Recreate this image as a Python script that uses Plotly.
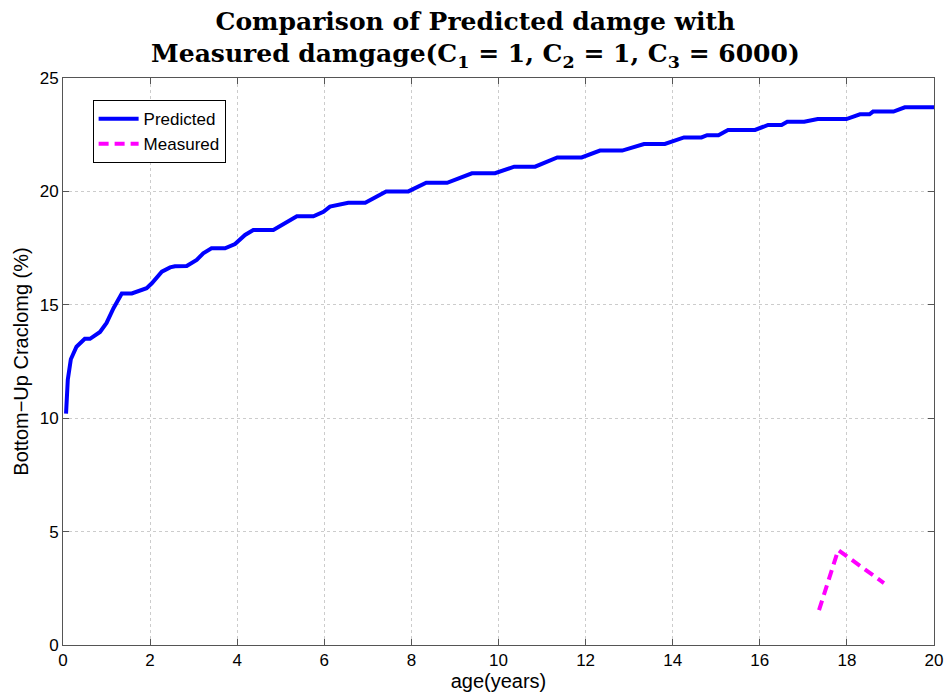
import plotly.graph_objects as go

# Predicted damage curve
pred_age = [0.07, 0.11, 0.18, 0.31, 0.5, 0.62, 0.85, 1.0, 1.16, 1.35, 1.58, 1.92, 2.04, 2.27, 2.46,
            2.57, 2.84, 3.07, 3.22, 3.41, 3.72, 3.95, 4.18, 4.37, 4.83, 5.14, 5.37, 5.75, 5.98,
            6.13, 6.36, 6.55, 6.94, 7.42, 7.93, 8.34, 8.82, 9.39, 9.92, 10.36, 10.84, 11.35, 11.91,
            12.33, 12.84, 13.34, 13.82, 14.26, 14.66, 14.79, 15.05, 15.27, 15.89, 16.19, 16.5,
            16.63, 17.02, 17.33, 17.99, 18.3, 18.52, 18.6, 19.07, 19.33, 20.0]
pred_val = [10.2, 11.7, 12.6, 13.15, 13.5, 13.5, 13.8, 14.2, 14.85, 15.5, 15.5, 15.73, 15.95, 16.46, 16.65,
            16.7, 16.71, 16.98, 17.27, 17.49, 17.49, 17.68, 18.08, 18.3, 18.3, 18.66, 18.9, 18.9, 19.1,
            19.33, 19.4, 19.5, 19.5, 20.0, 20.0, 20.38, 20.38, 20.8, 20.8, 21.09, 21.09, 21.5, 21.5,
            21.8, 21.8, 22.09, 22.09, 22.38, 22.38, 22.48, 22.48, 22.71, 22.71, 22.93, 22.93,
            23.07, 23.07, 23.19, 23.19, 23.4, 23.4, 23.52, 23.52, 23.71, 23.71]

# Measured damage
meas_age = [17.36, 17.8, 18.85]
meas_val = [1.54, 4.19, 2.73]

x_ticks = [0, 2, 4, 6, 8, 10, 12, 14, 16, 18, 20]
y_ticks = [0, 5, 10, 15, 20, 25]

fig = go.Figure()
fig.add_trace(go.Scatter(x=pred_age, y=pred_val, mode="lines", name="Predicted",
                         line=dict(color="#0000FF", width=4)))
fig.add_trace(go.Scatter(x=meas_age, y=meas_val, mode="lines", name="Measured",
                         line=dict(color="#FF00FF", width=4, dash="10px,6px")))

axis_common = dict(showline=True, linecolor="#555555", linewidth=1, mirror="allticks",
                   ticks="inside", ticklen=6, tickcolor="#555555", automargin=False,
                   showgrid=True, gridcolor="#cccccc", griddash="dot", gridwidth=1,
                   zeroline=False, tickfont=dict(family="Liberation Sans", size=17, color="black"))

fig.update_layout(
    width=947, height=696,
    paper_bgcolor="white", plot_bgcolor="white",
    margin=dict(l=63, r=13, t=78, b=51),
    title=dict(text="<b>Comparison of Predicted damge with<br>Measured damgage(C<sub>1</sub> = 1, C<sub>2</sub> = 1, C<sub>3</sub> = 6000)</b>",
               x=0.502, xanchor="center", y=0.957, yanchor="middle", automargin=False,
               font=dict(family="DejaVu Serif", size=25, color="black")),
    xaxis=dict(range=[0, 20], tickvals=x_ticks,
               title=dict(text="age(years)", font=dict(family="Liberation Sans", size=20, color="black"),
                          standoff=3),
               **axis_common),
    yaxis=dict(range=[0, 25], tickvals=y_ticks,
               title=dict(text="Bottom−Up Craclomg (%)", font=dict(family="Liberation Sans", size=20, color="black"),
                          standoff=5),
               **axis_common),
    legend=dict(x=0.034, y=0.961, xanchor="left", yanchor="top",
                bgcolor="white", bordercolor="black", borderwidth=1,
                font=dict(family="Liberation Sans", size=17, color="black"),
                itemwidth=40, tracegroupgap=0),
    showlegend=True,
)

fig.write_html("out.html", config={"displayModeBar": False},
               post_script="document.body.style.margin='0';")
